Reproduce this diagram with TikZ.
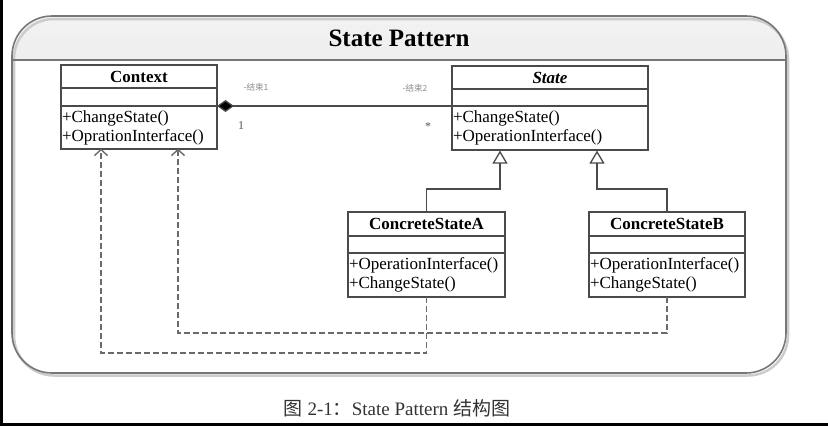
\documentclass[tikz,border=0pt]{standalone}
\usepackage{fontspec}
\setmainfont{Liberation Serif}
\newfontfamily\cjk{Noto Sans CJK SC}
\usetikzlibrary{arrows.meta}
\definecolor{linec}{HTML}{4A4A4A}
\definecolor{framec}{HTML}{777777}
\definecolor{dashc}{HTML}{6A6A6A}
\definecolor{capc}{HTML}{333333}
\definecolor{multc}{HTML}{555555}
\begin{document}
\begin{tikzpicture}[x=1pt,y=-1pt,
  cls/.style={draw=linec, line width=1.3pt, inner sep=0pt, outer sep=0pt, anchor=north west, fill=white},
  ttl/.style={cls, font=\fontsize{17}{19}\selectfont\bfseries},
  mth/.style={cls, align=left, inner xsep=1pt, font=\fontsize{17}{19}\selectfont},
  lbl/.style={font=\cjk\fontsize{8.5}{10}\selectfont, text=gray!90, inner sep=0pt},
  mult/.style={font=\fontsize{12}{12}\selectfont, text=multc, inner sep=0pt},
  inherit/.style={draw=linec, line width=1.3pt, -{Triangle[open,length=13pt,width=15pt,fill=white]}},
  dep/.style={draw=dashc, line width=1.4pt, dash pattern=on 6pt off 3pt, -{Straight Barb[length=6pt,width=13pt]}},
  assoc/.style={draw=linec, line width=1.3pt, {Diamond[length=17pt,width=12pt,fill=black]}-}
]
\useasboundingbox (0,0) rectangle (828,426);
\fill[white] (0,0) rectangle (828,426);
\fill[black] (0,0) rectangle (3,426);
\fill[black] (0,423) rectangle (828,426);

% frame and title bar
\begin{scope}
  \clip (10,14) rectangle (790,60);
  \shade[top color=gray!10, bottom color=gray!35, rounded corners=40] (12,16) rectangle (786,373);
\end{scope}
\draw[gray!40, line width=2.5pt, rounded corners=40] (14,19) rectangle (788,375.5);
\node[draw=framec, line width=1.6pt, rounded corners=40, minimum width=774, minimum height=357, anchor=north west, inner sep=0pt, outer sep=0pt] (frame) at (12,16) {};
\draw[framec, line width=1.4pt] (frame.west |- 0,60) -- (frame.east |- 0,60);
\node[font=\fontsize{25}{25}\selectfont\bfseries] (title) at (399,38) {State Pattern};

% Context
\node[ttl, minimum width=156, minimum height=23] (ctx) at (61,65) {Context};
\node[cls, minimum width=156, minimum height=18] (ctxa) at (ctx.south west) {};
\node[mth, minimum width=156, minimum height=43, text width=154] (ctxm) at (ctxa.south west) {+ChangeState()\\+OprationInterface()};

% State
\node[ttl, minimum width=196, minimum height=23, font=\fontsize{17}{19}\selectfont\bfseries\itshape] (st) at (452,66) {State};
\node[cls, minimum width=196, minimum height=17] (sta) at (st.south west) {};
\node[mth, minimum width=196, minimum height=44, text width=194] (stm) at (sta.south west) {+ChangeState()\\+OperationInterface()};

% ConcreteStateA
\node[ttl, minimum width=157, minimum height=24] (csa) at (348,212) {ConcreteStateA};
\node[cls, minimum width=157, minimum height=17] (csaa) at (csa.south west) {};
\node[mth, minimum width=157, minimum height=44, text width=155] (csam) at (csaa.south west) {+OperationInterface()\\+ChangeState()};

% ConcreteStateB
\node[ttl, minimum width=156, minimum height=24] (csb) at (589,212) {ConcreteStateB};
\node[cls, minimum width=156, minimum height=17] (csba) at (csb.south west) {};
\node[mth, minimum width=156, minimum height=44, text width=154] (csbm) at (csba.south west) {+OperationInterface()\\+ChangeState()};

% association
\draw[assoc] (ctxa.south east) -- (sta.south west);
\node[lbl] (r1) at (256,87) {-结束1};
\node[lbl] (r2) at (415,88) {-结束2};
\node[mult] (m1) at (241,126) {1};
\node[mult] (m2) at (428,127) {*};

% inheritance
\coordinate (sa) at (500,150.6);
\coordinate (sb) at (597,150.6);
\draw[inherit] (csa.north) -- ++(0,-23) -| (sa);
\draw[inherit] (csb.north) -- ++(0,-23) -| (sb);

% dependencies
\coordinate (ca) at (101,148.6);
\coordinate (cb) at (178,148.6);
\draw[dep] (csam.south) -- ++(0,56) -| (ca);
\draw[dep] (csbm.south) -- ++(0,36) -| (cb);

% caption
\node[font=\fontsize{19}{20}\selectfont, text=capc] (cap) at (397,408) {{\cjk 图} 2-1{\cjk ：}State Pattern {\cjk 结构图}};
\end{tikzpicture}
\end{document}
